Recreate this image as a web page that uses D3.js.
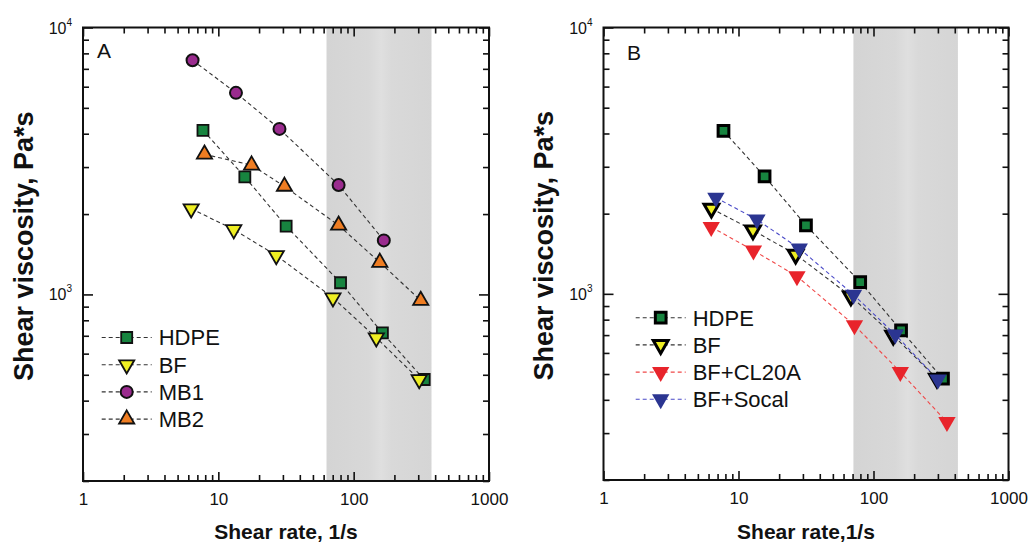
<!DOCTYPE html>
<html lang="en">
<head>
  <meta charset="UTF-8">
  <title>Shear viscosity</title>
  <style>
    body { margin: 0; background: #fff; }
    svg text { font-family: "Liberation Sans", Arial, sans-serif; }
  </style>
</head>
<body>
  <svg id="chart" width="1031" height="543"></svg>

  <script src="https://cdn.jsdelivr.net/npm/d3@7"></script>
  <script type="text/javascript">

    // panel A data (shear rate 1/s, viscosity Pa*s)
    var rateA_HDPE = [7.7, 15.7, 31.7, 80, 163, 332],
        viscA_HDPE = [4120, 2755, 1803, 1106, 718, 480],
        rateA_BF = [6.3, 13, 26.8, 70.3, 147, 305],
        viscA_BF = [2095, 1750, 1400, 972, 688, 480],
        rateA_MB1 = [6.45, 13.5, 28.3, 77.4, 167],
        viscA_MB1 = [7540, 5690, 4170, 2570, 1594],
        rateA_MB2 = [7.9, 17.6, 30.8, 77.4, 156, 313],
        viscA_MB2 = [3350, 3050, 2540, 1815, 1318, 949];

    // panel B data
    var rateB_HDPE = [7.74, 15.6, 31.6, 79.7, 160, 327],
        viscB_HDPE = [4090, 2760, 1808, 1107, 729, 480],
        rateB_BF = [6.3, 12.8, 26.5, 68, 140, 295],
        viscB_BF = [2090, 1733, 1406, 979, 698, 481],
        rateB_CL20A = [6.28, 12.9, 27.1, 72.3, 158, 350],
        viscB_CL20A = [1782, 1455, 1164, 762, 509, 330],
        rateB_Socal = [6.8, 13.7, 28.2, 71.1, 145, 300],
        viscB_Socal = [2296, 1900, 1480, 993, 703, 477];

    var shadeA = [63, 376],
        shadeB = [71, 422];

    var xTicks = [1, 10, 100, 1000],
        xTickLabels = ["1", "10", "100", "1000"],
        yTicks = [1000, 10000],
        yTickExp = ["3", "4"];

    var svg = d3.select("#chart");

    // gray band with a lighter stripe in the middle
    var grad = svg.append("defs").append("linearGradient")
      .attr("id", "band").attr("x1", 0).attr("x2", 1).attr("y1", 0).attr("y2", 0);
    [[0, "#d4d4d4"], [0.4, "#d8d8d8"], [0.52, "#dfdfdf"], [0.62, "#d9d9d9"], [1, "#d5d5d5"]]
      .forEach(function (s) {
        grad.append("stop").attr("offset", s[0]).attr("stop-color", s[1]);
      });

    function zip(xs, ys) {
      return xs.map(function (x, i) { return { x: x, y: ys[i] }; });
    }

    var panels = [
      {
        left: 83, right: 489, top: 27.5, bottom: 481,
        label: "A", labelX: 97, labelY: 58,
        xTitle: "Shear rate, 1/s", xTitleX: 286, yTitleX: 33,
        shade: shadeA,
        legendX: 126.7, legendY: 337.5,
        series: [
          { name: "HDPE", data: zip(rateA_HDPE, viscA_HDPE), shape: "square", fill: "#17843f", stroke: "#111", sw: 1.8, line: "#333", size: 121 },
          { name: "BF", data: zip(rateA_BF, viscA_BF), shape: "down", fill: "#eeee22", stroke: "#111", sw: 1.8, line: "#333", size: 100 },
          { name: "MB1", data: zip(rateA_MB1, viscA_MB1), shape: "circle", fill: "#9a2b8e", stroke: "#111", sw: 2, line: "#333", size: 113 },
          { name: "MB2", data: zip(rateA_MB2, viscA_MB2), shape: "up", fill: "#ef7d22", stroke: "#111", sw: 1.8, line: "#333", size: 100 }
        ]
      },
      {
        left: 603.5, right: 1008.5, top: 27.5, bottom: 480,
        label: "B", labelX: 627, labelY: 60,
        xTitle: "Shear rate,1/s", xTitleX: 806, yTitleX: 553,
        shade: shadeB,
        legendX: 660.7, legendY: 317.7,
        series: [
          { name: "HDPE", data: zip(rateB_HDPE, viscB_HDPE), shape: "square", fill: "#17843f", stroke: "#000", sw: 3, line: "#333", size: 115 },
          { name: "BF", data: zip(rateB_BF, viscB_BF), shape: "down", fill: "#eeee22", stroke: "#000", sw: 3, line: "#333", size: 95 },
          { name: "BF+CL20A", data: zip(rateB_CL20A, viscB_CL20A), shape: "down", fill: "#e8242b", stroke: "none", sw: 0, line: "#f04848", size: 130 },
          { name: "BF+Socal", data: zip(rateB_Socal, viscB_Socal), shape: "down", fill: "#2b3591", stroke: "none", sw: 0, line: "#4a4ac8", size: 130 }
        ]
      }
    ];

    function symbolPath(d) {
      var type = d.shape === "square" ? d3.symbolSquare
        : d.shape === "circle" ? d3.symbolCircle : d3.symbolTriangle;
      return d3.symbol().type(type).size(d.size)();
    }

    function minorValues(lo, hi) {
      var out = [];
      for (var p = lo; p < hi; p *= 10) {
        for (var k = 2; k <= 9; k++) out.push(p * k);
      }
      return out;
    }

    panels.forEach(drawPanel);

    function drawPanel(p) {
      var x = d3.scaleLog().domain([1, 1000]).range([p.left, p.right]),
          y = d3.scaleLog().domain([200, 10000]).range([p.bottom, p.top]),
          g = svg.append("g");

      g.append("rect")
        .attr("x", x(p.shade[0])).attr("y", p.top)
        .attr("width", x(p.shade[1]) - x(p.shade[0]))
        .attr("height", p.bottom - p.top)
        .attr("fill", "url(#band)");

      var xMinor = minorValues(1, 1000),
          yMinor = minorValues(100, 10000).filter(function (v) { return v >= 200; });

      function tickAxis(axis, transform) {
        var a = g.append("g").attr("transform", transform).call(axis);
        a.select(".domain").remove();
        a.selectAll("line").attr("stroke", "#111").attr("stroke-width", 1.6);
        return a;
      }

      var w = p.right - p.left, h = p.bottom - p.top;
      // minor ticks on all four sides
      tickAxis(d3.axisBottom(x).tickValues(xMinor).tickSize(-6).tickFormat(""), "translate(0," + p.bottom + ")");
      tickAxis(d3.axisTop(x).tickValues(xMinor).tickSize(-6).tickFormat(""), "translate(0," + p.top + ")");
      tickAxis(d3.axisLeft(y).tickValues(yMinor).tickSize(-6).tickFormat(""), "translate(" + p.left + ",0)");
      tickAxis(d3.axisRight(y).tickValues(yMinor).tickSize(-6).tickFormat(""), "translate(" + p.right + ",0)");
      // major ticks
      var xb = tickAxis(d3.axisBottom(x).tickValues(xTicks).tickSize(-9).tickPadding(12)
        .tickFormat(function (d, i) { return xTickLabels[i]; }), "translate(0," + p.bottom + ")");
      xb.selectAll("text").attr("font-size", 17).attr("fill", "#111")
        .style("font-family", "'Liberation Sans', Arial, sans-serif");
      tickAxis(d3.axisTop(x).tickValues(xTicks).tickSize(-9).tickFormat(""), "translate(0," + p.top + ")");
      tickAxis(d3.axisLeft(y).tickValues(yTicks).tickSize(-10).tickFormat(""), "translate(" + p.left + ",0)");
      tickAxis(d3.axisRight(y).tickValues(yTicks).tickSize(-10).tickFormat(""), "translate(" + p.right + ",0)");

      // y tick labels 10^n
      yTicks.forEach(function (v, i) {
        var t = g.append("text")
          .attr("x", p.left - 11).attr("y", y(v) + 6)
          .attr("text-anchor", "end").attr("fill", "#111").attr("font-size", 16);
        t.append("tspan").text("10");
        t.append("tspan").attr("font-size", 10).attr("dy", -8).text(yTickExp[i]);
      });

      // frame
      g.append("rect")
        .attr("x", p.left).attr("y", p.top).attr("width", w).attr("height", h)
        .attr("fill", "none").attr("stroke", "#111").attr("stroke-width", 2);

      var line = d3.line().x(function (d) { return x(d.x); }).y(function (d) { return y(d.y); });

      p.series.forEach(function (s) {
        g.append("path").datum(s.data)
          .attr("d", line).attr("fill", "none")
          .attr("stroke", s.line).attr("stroke-width", 1.1)
          .attr("stroke-dasharray", "4,3");
      });

      p.series.forEach(function (s) {
        g.selectAll(null).data(s.data).enter().append("path")
          .attr("d", symbolPath(s))
          .attr("transform", function (d) {
            return "translate(" + x(d.x) + "," + y(d.y) + ")" + (s.shape === "down" ? " rotate(180)" : "");
          })
          .attr("fill", s.fill).attr("stroke", s.stroke).attr("stroke-width", s.sw)
          .attr("stroke-linejoin", "miter");
      });

      // legend
      p.series.forEach(function (s, i) {
        var ly = p.legendY + i * 27.2;
        g.append("line")
          .attr("x1", p.legendX - 25).attr("x2", p.legendX + 25)
          .attr("y1", ly).attr("y2", ly)
          .attr("stroke", s.line).attr("stroke-width", 1.1).attr("stroke-dasharray", "4,3");
        g.append("path").attr("d", symbolPath(s))
          .attr("transform", "translate(" + p.legendX + "," + ly + ")" + (s.shape === "down" ? " rotate(180)" : ""))
          .attr("fill", s.fill).attr("stroke", s.stroke).attr("stroke-width", s.sw);
        g.append("text")
          .attr("x", p.legendX + 32).attr("y", ly).attr("dy", "0.36em")
          .attr("font-size", 22).attr("fill", "#111").text(s.name);
      });

      g.append("text").attr("x", p.labelX).attr("y", p.labelY)
        .attr("font-size", 21).attr("fill", "#111").text(p.label);

      g.append("text").attr("x", p.xTitleX).attr("y", 539)
        .attr("text-anchor", "middle").attr("font-size", 21).attr("font-weight", "bold")
        .attr("fill", "#111").text(p.xTitle);

      g.append("text")
        .attr("transform", "translate(" + p.yTitleX + "," + (p.top + h / 2 - 8) + ") rotate(-90)")
        .attr("text-anchor", "middle").attr("font-size", 27).attr("font-weight", "bold")
        .attr("fill", "#111").text("Shear viscosity, Pa*s");
    }
  </script>
</body>
</html>
